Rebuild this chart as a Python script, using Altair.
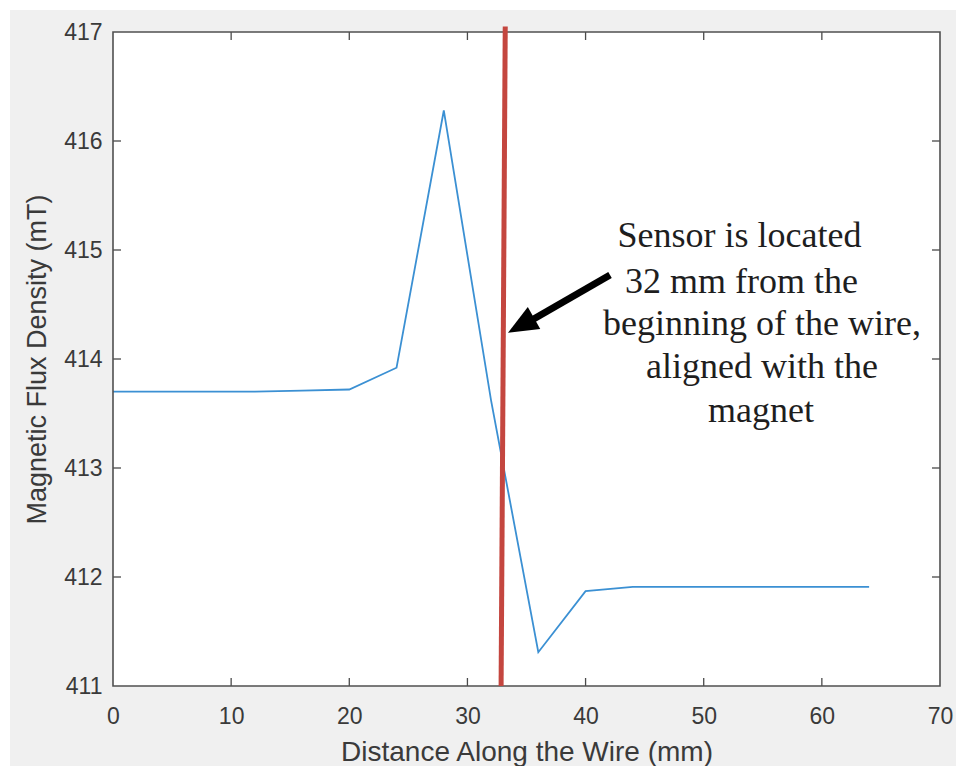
import altair as alt
import pandas as pd

# ---- data ----
dist_mm = [0, 4, 8, 12, 16, 20, 24, 28, 32, 36, 40, 44, 48, 52, 56, 60, 64]
flux_mT = [413.70, 413.70, 413.70, 413.70, 413.71, 413.72, 413.92, 416.28,
           413.62, 411.31, 411.87, 411.91, 411.91, 411.91, 411.91, 411.91, 411.91]

x_ticks = [0, 10, 20, 30, 40, 50, 60, 70]
y_ticks = [411, 412, 413, 414, 415, 416, 417]
x_inner_ticks = [10, 20, 30, 40, 50, 60]
y_inner_ticks = [412, 413, 414, 415, 416]

# sensor marker (red line): bottom and top ends
sensor_x = [32.85, 33.2]
sensor_y = [411.0, 417.05]

# arrow: tail, neck (end of shaft), tip
arrow_x = [42.07, 34.54, 33.43]
arrow_y = [414.77, 414.30, 414.24]

note_lines = ["Sensor is located", "32 mm from the", "beginning of the wire,",
              "aligned with the", "magnet"]
note_x = [53.03, 53.2, 54.93, 54.93, 54.85]
note_y = [415.03, 414.61, 414.22, 413.83, 413.42]

x_title = "Distance Along the Wire (mm)"
y_title = "Magnetic Flux Density (mT)"

# ---- layout ----
W, H = 827, 654
GRAY = "#f0f0f0"
AX = "#3a3a3a"

xs = alt.Scale(domain=[0, 70], nice=False, zero=False)
ys = alt.Scale(domain=[411, 417], nice=False, zero=False)

x_axis = alt.Axis(values=x_ticks, grid=False, domain=False, ticks=False,
                  labelFlush=False, labelPadding=19,
                  labelFont="Liberation Sans", labelFontSize=23,
                  labelColor=AX, titleFont="Liberation Sans",
                  titleFontSize=28, titleFontWeight="normal",
                  titleColor=AX, titlePadding=10, zindex=1)
y_axis = alt.Axis(values=y_ticks, grid=False, domain=False, ticks=False,
                  labelPadding=11, format="d",
                  labelFont="Liberation Sans", labelFontSize=23,
                  labelColor=AX, titleFont="Liberation Sans",
                  titleFontSize=27, titleFontWeight="normal",
                  titleColor=AX, titlePadding=12, zindex=1)


def X(field="x"):
    return alt.X(f"{field}:Q", scale=xs, title=x_title, axis=x_axis)


def Y(field="y"):
    return alt.Y(f"{field}:Q", scale=ys, title=y_title, axis=y_axis)


one = pd.DataFrame({"a": [0]})

bg = alt.Chart(one).mark_rect(color=GRAY).encode(
    x=alt.value(-103), x2=alt.value(843), y=alt.value(-22), y2=alt.value(734))
plot_bg = alt.Chart(one).mark_rect(color="white").encode(
    x=alt.value(0), x2=alt.value(W), y=alt.value(0), y2=alt.value(H))

df = pd.DataFrame({"x": dist_mm, "y": flux_mT})
line = alt.Chart(df).mark_line(color="#3b90d3", strokeWidth=1.8).encode(
    x=X(), y=Y())

txd = pd.DataFrame({"x": x_inner_ticks})
tyd = pd.DataFrame({"y": y_inner_ticks})
TICK = "#4a4a4a"
tick_b = alt.Chart(txd).mark_rule(color=TICK, strokeWidth=1.3).encode(
    x=X(), y=alt.value(H), y2=alt.value(H - 8))
tick_t = alt.Chart(txd).mark_rule(color=TICK, strokeWidth=1.3).encode(
    x=X(), y=alt.value(0), y2=alt.value(8))
tick_l = alt.Chart(tyd).mark_rule(color=TICK, strokeWidth=1.3).encode(
    y=Y(), x=alt.value(0), x2=alt.value(8))
tick_r = alt.Chart(tyd).mark_rule(color=TICK, strokeWidth=1.3).encode(
    y=Y(), x=alt.value(W), x2=alt.value(W - 8))

box = alt.Chart(one).mark_rect(filled=False, color="#505050", strokeWidth=1.6).encode(
    x=alt.value(0), x2=alt.value(W), y=alt.value(0), y2=alt.value(H))

sdf = pd.DataFrame({"x": [sensor_x[0]], "y": [sensor_y[0]],
                    "x2": [sensor_x[1]], "y2": [sensor_y[1]]})
sensor = alt.Chart(sdf).mark_rule(color="#c4463f", strokeWidth=5).encode(
    x=X(), y=Y(), x2="x2:Q", y2="y2:Q")

adf = pd.DataFrame({"x": [arrow_x[0]], "y": [arrow_y[0]],
                    "x2": [arrow_x[1]], "y2": [arrow_y[1]]})
shaft = alt.Chart(adf).mark_rule(color="black", strokeWidth=7, strokeCap="butt").encode(
    x=X(), y=Y(), x2="x2:Q", y2="y2:Q")
hdf = pd.DataFrame({"x": [arrow_x[2]], "y": [arrow_y[2]]})
head = alt.Chart(hdf).mark_point(shape="M0,0L-0.42,1L0.42,1Z", filled=True,
                                 color="black", opacity=1, size=3600,
                                 angle=240.4, strokeWidth=0).encode(
    x=X(), y=Y())

ndf = pd.DataFrame({"x": note_x, "y": note_y, "t": note_lines})
note = alt.Chart(ndf).mark_text(font="Liberation Serif", fontSize=36,
                                align="center", baseline="alphabetic",
                                color="#1e1e1e").encode(
    x=X(), y=Y(), text="t:N")

chart = alt.layer(bg, plot_bg, line, tick_b, tick_t, tick_l, tick_r, box,
                  sensor, shaft, head, note).properties(
    width=W, height=H,
    padding={"left": 10, "top": 10, "right": 0, "bottom": 0},
    background="white",
).configure_view(stroke="transparent")

chart.save("out.html", embed_options={"renderer": "svg", "actions": False})
